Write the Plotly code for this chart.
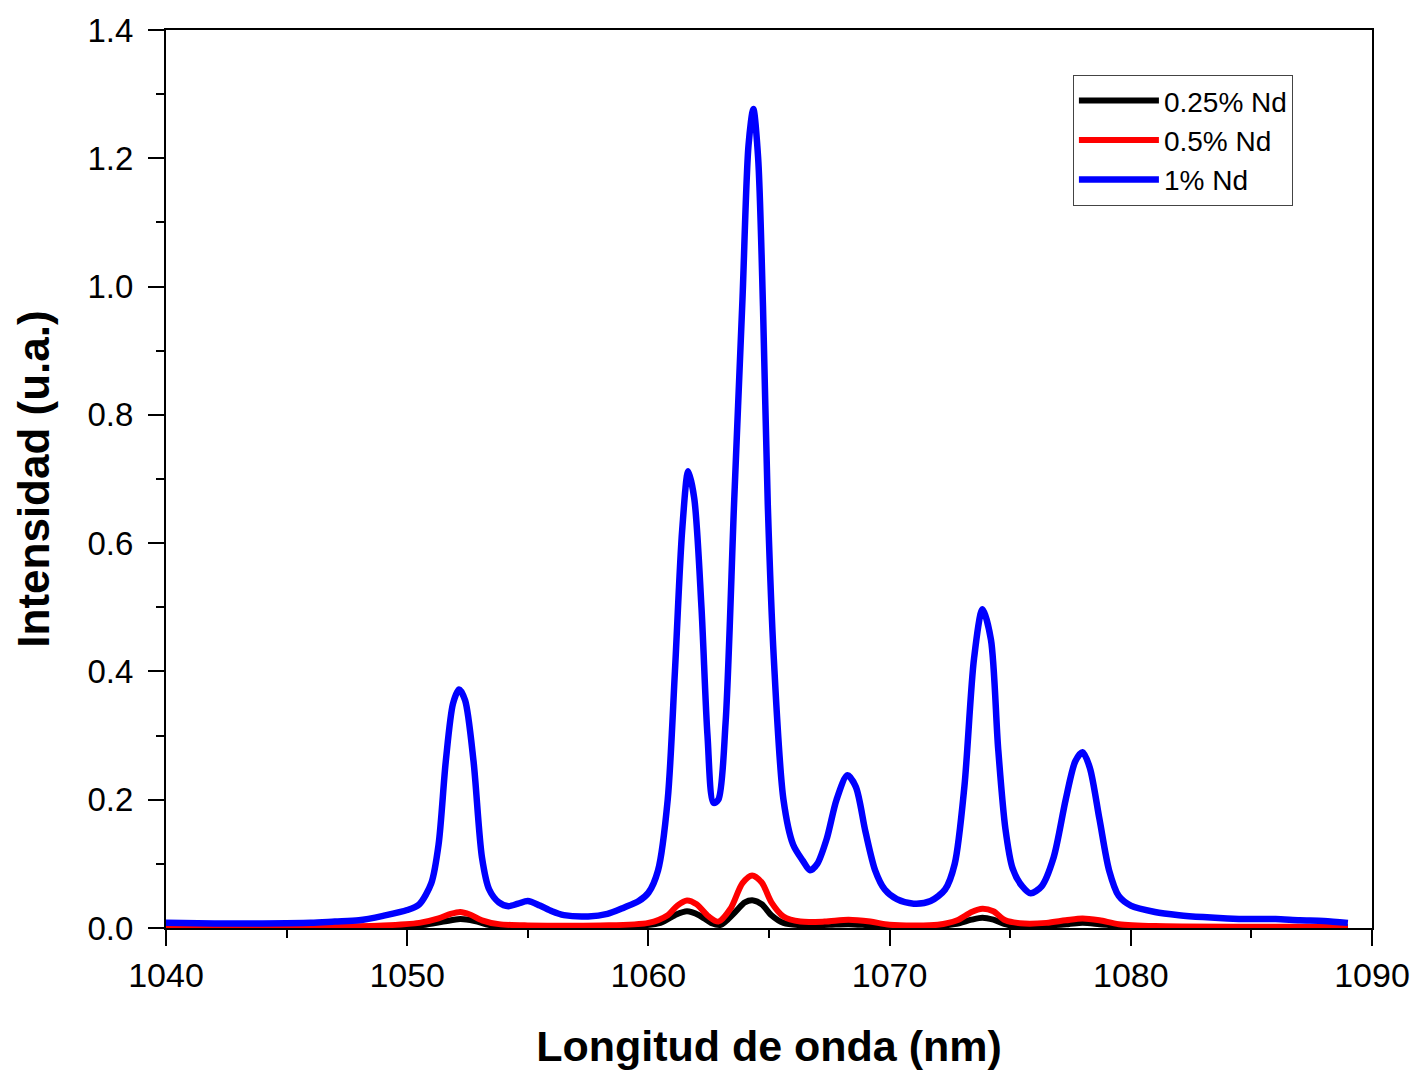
import plotly.graph_objects as go

# ---- data ----
wl_blue = [1040, 1042, 1044, 1046, 1047, 1048, 1049, 1050, 1050.5, 1051, 1051.3, 1051.6, 1051.9,
           1052.15, 1052.4, 1052.75, 1053.1, 1053.4, 1053.8, 1054.2, 1054.6, 1055.0, 1055.5, 1056,
           1056.5, 1057.5, 1058.3, 1059, 1059.6, 1060, 1060.4, 1060.8, 1061.1, 1061.4, 1061.65,
           1061.9, 1062.2, 1062.45, 1062.7, 1062.9, 1063.2, 1063.55, 1063.9, 1064.15, 1064.35,
           1064.55, 1064.75, 1064.95, 1065.2, 1065.6, 1066.0, 1066.4, 1066.7, 1067.0, 1067.4,
           1067.8, 1068.25, 1068.6, 1069.0, 1069.4, 1069.8, 1070.3, 1071, 1071.7, 1072.3, 1072.7,
           1073.1, 1073.5, 1073.85, 1074.2, 1074.5, 1074.8, 1075.1, 1075.5, 1075.85, 1076.3,
           1076.8, 1077.3, 1077.7, 1078.0, 1078.3, 1078.7, 1079.1, 1079.5, 1080, 1081, 1082,
           1083, 1084, 1085, 1086, 1087, 1088, 1089]
int_blue = [0.008, 0.007, 0.007, 0.008, 0.010, 0.012, 0.019, 0.028, 0.037, 0.070, 0.130, 0.260, 0.350,
            0.372, 0.355, 0.260, 0.110, 0.060, 0.040, 0.034, 0.038, 0.042, 0.035, 0.026,
            0.020, 0.018, 0.022, 0.032, 0.042, 0.055, 0.090, 0.200, 0.400, 0.620, 0.712,
            0.670, 0.500, 0.300, 0.195, 0.200, 0.320, 0.660, 0.980, 1.220, 1.277,
            1.200, 0.970, 0.660, 0.420, 0.200, 0.130, 0.105, 0.090, 0.100, 0.140,
            0.200, 0.238, 0.220, 0.150, 0.090, 0.060, 0.045, 0.038, 0.042, 0.060, 0.100,
            0.220, 0.420, 0.497, 0.450, 0.280, 0.155, 0.093, 0.065, 0.054, 0.065,
            0.110, 0.200, 0.260, 0.274, 0.250, 0.170, 0.090, 0.050, 0.035, 0.025, 0.020,
            0.017, 0.015, 0.014, 0.014, 0.012, 0.011, 0.008]

wl_red = [1040, 1046, 1049, 1050.5, 1051.3, 1051.8, 1052.2, 1052.6, 1053.1, 1053.8, 1055, 1058,
          1060, 1060.8, 1061.2, 1061.6, 1062.0, 1062.5, 1062.9, 1063.4, 1063.9, 1064.3, 1064.7,
          1065.1, 1065.6, 1066.3, 1067.3, 1068.3, 1069.2, 1070, 1072, 1072.8, 1073.4, 1073.85,
          1074.3, 1074.8, 1075.6, 1076.5, 1077.3, 1078, 1078.7, 1079.5, 1081, 1085, 1089]
int_red = [0.002, 0.002, 0.004, 0.008, 0.015, 0.022, 0.025, 0.021, 0.012, 0.006, 0.004, 0.004,
           0.008, 0.020, 0.035, 0.043, 0.037, 0.018, 0.010, 0.030, 0.070, 0.082, 0.071,
           0.040, 0.018, 0.010, 0.010, 0.013, 0.010, 0.005, 0.005, 0.012, 0.025, 0.030,
           0.026, 0.012, 0.007, 0.008, 0.012, 0.015, 0.012, 0.006, 0.003, 0.002, 0.002]

wl_black = [1040, 1048, 1050.5, 1051.5, 1052.2, 1052.8, 1053.5, 1055, 1059, 1060.5, 1061.1, 1061.6,
            1062.1, 1062.6, 1063.0, 1063.6, 1064.0, 1064.35, 1064.7, 1065.1, 1065.6, 1066.5,
            1067.5, 1068.3, 1069.3, 1071, 1072.7, 1073.4, 1073.85, 1074.3, 1074.9, 1076.5,
            1077.4, 1078, 1078.7, 1079.6, 1081, 1089]
int_black = [0.001, 0.001, 0.004, 0.010, 0.014, 0.011, 0.004, 0.002, 0.002, 0.008, 0.020, 0.026,
             0.020, 0.008, 0.005, 0.025, 0.040, 0.043, 0.037, 0.020, 0.008, 0.004,
             0.005, 0.006, 0.004, 0.002, 0.006, 0.013, 0.016, 0.013, 0.005, 0.004,
             0.006, 0.008, 0.006, 0.003, 0.001, 0.001]

series = [
    ("0.25% Nd", wl_black, int_black, "#000000", 6),
    ("0.5% Nd", wl_red, int_red, "#ff0000", 6),
    ("1% Nd", wl_blue, int_blue, "#0000ff", 6.5),
]

x_ticks = [1040, 1050, 1060, 1070, 1080, 1090]
y_ticks = [0.0, 0.2, 0.4, 0.6, 0.8, 1.0, 1.2, 1.4]

FONT = "Liberation Sans, Arial, sans-serif"

fig = go.Figure()
for name, xs, ys, col, w in series:
    fig.add_trace(go.Scatter(x=xs, y=ys, mode="lines", name=name,
                             line=dict(color=col, width=w, shape="spline", smoothing=0.8)))

fig.update_layout(
    width=1422, height=1074,
    margin=dict(l=166, r=38, t=21, b=142),
    paper_bgcolor="white", plot_bgcolor="white",
    font=dict(family=FONT, color="black"),
    showlegend=True,
    legend=dict(x=0.752, y=0.95, xanchor="left", yanchor="top",
                bgcolor="white", bordercolor="#444", borderwidth=1,
                itemwidth=80,
                font=dict(size=28, family=FONT), tracegroupgap=0),
)

fig.update_xaxes(
    range=[1040, 1090], tickvals=x_ticks, ticktext=[str(v) for v in x_ticks],
    showgrid=False, zeroline=False,
    showline=True, linecolor="black", linewidth=2, mirror=True,
    ticks="outside", ticklen=16, tickwidth=2, tickcolor="black",
    minor=dict(dtick=5, tick0=1040, ticks="outside", ticklen=8, tickwidth=2, tickcolor="black", showgrid=False),
    tickfont=dict(size=34, family=FONT),
    title=dict(text="<b>Longitud de onda (nm)</b>", font=dict(size=43, family=FONT), standoff=38),
)
fig.update_yaxes(
    range=[0, 1.4], tickvals=y_ticks, ticktext=[f"{v:.1f}" for v in y_ticks],
    showgrid=False, zeroline=False,
    showline=True, linecolor="black", linewidth=2, mirror=True,
    ticks="outside", ticklen=16, tickwidth=2, tickcolor="black",
    ticklabelstandoff=8,
    minor=dict(dtick=0.1, tick0=0, ticks="outside", ticklen=8, tickwidth=2, tickcolor="black", showgrid=False),
    tickfont=dict(size=33, family=FONT),
    title=dict(text="<b>Intensidad (u.a.)</b>", font=dict(size=44, family=FONT), standoff=24),
)

fig.write_html("out.html")
